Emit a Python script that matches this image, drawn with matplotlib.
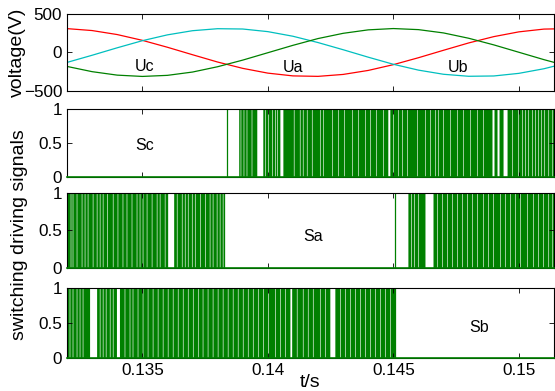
import matplotlib
matplotlib.use('Agg')
import numpy as np
import matplotlib.pyplot as plt

plt.rcParams['font.family'] = ['Liberation Sans', 'DejaVu Sans']

# tensoes trifasicas (uma amostra por ms)
t = [0.132, 0.133, 0.134, 0.135, 0.136, 0.137, 0.138, 0.139, 0.140, 0.141, 0.142,
     0.143, 0.144, 0.145, 0.146, 0.147, 0.148, 0.149, 0.150, 0.151, 0.152]
ua = [310, 285, 233, 158, 68, -29, -124, -206, -268, -304, -310,
      -285, -233, -158, -68, 29, 124, 206, 268, 304, 310]
ub = [-129, -36, 61, 153, 229, 283, 309, 305, 271, 211, 129,
      36, -61, -153, -229, -283, -309, -305, -271, -211, -129]
uc = [-181, -249, -294, -311, -297, -254, -185, -99, -3, 93, 181,
      249, 294, 311, 297, 254, 185, 99, 3, -93, -181]

# sinais de chaveamento: janelas de comutacao densa, faixas brancas e bordas isoladas (s)
sc_active = [(0.13886, 0.1514)]
sc_edges = [0.13838]
sc_wide_gaps = [(0.13958, 0.13982), (0.14050, 0.14062), (0.14480, 0.14488),
                (0.14895, 0.14903), (0.14915, 0.14923), (0.14939, 0.14955)]
sc_gaps = [0.13893, 0.13905, 0.13917, 0.13937, 0.13990, 0.14002, 0.14018, 0.14030,
           0.14038, 0.14105, 0.14129, 0.14141, 0.14157, 0.14177, 0.14209, 0.14221,
           0.14257, 0.14281, 0.14305, 0.14337, 0.14361, 0.14389, 0.14409, 0.14433,
           0.14461, 0.14500, 0.14520, 0.14536, 0.14556, 0.14596, 0.14628, 0.14648,
           0.14668, 0.14680, 0.14700, 0.14728, 0.14756, 0.14780, 0.14808, 0.14835,
           0.14859, 0.14975, 0.14999, 0.15015, 0.15027, 0.15039, 0.15055, 0.15067,
           0.15079, 0.15091, 0.15103, 0.15119, 0.15135]

sa_active = [(0.132, 0.13830), (0.14560, 0.1514)]
sa_edges = [0.14508]
sa_wide_gaps = [(0.13603, 0.13627), (0.14628, 0.14660)]
sa_gaps = [0.13216, 0.13224, 0.13240, 0.13260, 0.13272, 0.13284, 0.13304, 0.13320,
           0.13332, 0.13344, 0.13362, 0.13384, 0.13403, 0.13423, 0.13439, 0.13459,
           0.13479, 0.13491, 0.13503, 0.13519, 0.13539, 0.13559, 0.13571, 0.13591,
           0.13639, 0.13659, 0.13671, 0.13683, 0.13699, 0.13711, 0.13731, 0.13751,
           0.13770, 0.13782, 0.13798, 0.13810, 0.13822,
           0.14572, 0.14584, 0.14600, 0.14676, 0.14696, 0.14716, 0.14736, 0.14756,
           0.14776, 0.14796, 0.14815, 0.14835, 0.14859, 0.14879, 0.14899, 0.14927,
           0.14947, 0.14967, 0.14987, 0.15007, 0.15035, 0.15059, 0.15079, 0.15099,
           0.15119, 0.15135]

sb_active = [(0.132, 0.14508)]
sb_edges = [0.14508]
sb_wide_gaps = [(0.13292, 0.13320), (0.13399, 0.13411), (0.14090, 0.14097),
                (0.14249, 0.14269)]
sb_gaps = [0.13212, 0.13224, 0.13240, 0.13252, 0.13264, 0.13332, 0.13344, 0.13356,
           0.13372, 0.13384, 0.13431, 0.13451, 0.13463, 0.13483, 0.13503, 0.13523,
           0.13543, 0.13563, 0.13583, 0.13603, 0.13623, 0.13643, 0.13663, 0.13683,
           0.13703, 0.13723, 0.13742, 0.13762, 0.13782, 0.13802, 0.13822, 0.13842,
           0.13862, 0.13882, 0.13902, 0.13922, 0.13942, 0.13962, 0.13982, 0.14002,
           0.14030, 0.14050, 0.14070, 0.14117, 0.14141, 0.14161, 0.14181, 0.14209,
           0.14229, 0.14289, 0.14309, 0.14329, 0.14349, 0.14369, 0.14389, 0.14409,
           0.14429, 0.14449, 0.14468, 0.14488]

xticks = [0.135, 0.14, 0.145, 0.15]
xtick_labels = ['0.135', '0.14', '0.145', '0.15']

verde = '#008000'
fig = plt.figure(figsize=(5.55, 3.91), dpi=100)

# posicoes dos eixos (fracao da figura)
pos = [[0.1207, 0.7673, 0.8775, 0.1969],
       [0.1207, 0.5473, 0.8775, 0.1739],
       [0.1207, 0.3146, 0.8775, 0.1918],
       [0.1207, 0.0844, 0.8775, 0.1790]]
axs = [fig.add_axes(p) for p in pos]

for ax in axs:
    ax.set_xlim(0.132, 0.1514)
    ax.set_xticks(xticks)
    ax.tick_params(direction='in', top=True, right=True, length=3.5,
                   labelsize=12.3, width=0.6)
    for s in ax.spines.values():
        s.set_linewidth(0.8)

# tensoes
ax = axs[0]
ax.plot(t, ua, color='#ff0000', lw=0.9)
ax.plot(t, ub, color='#00bfbf', lw=0.9)
ax.plot(t, uc, color=verde, lw=0.9)
ax.set_ylim(-500, 500)
ax.set_yticks([-500, 0, 500])
ax.set_xticklabels([])
ax.set_ylabel('voltage(V)', fontsize=14, labelpad=-2)
ax.text(0.1351, -188, 'Uc', fontsize=11.5, ha='center', va='center')
ax.text(0.1410, -190, 'Ua', fontsize=11.5, ha='center', va='center')
ax.text(0.14756, -190, 'Ub', fontsize=11.5, ha='center', va='center')

# sinais de chaveamento
sinais = [(sc_active, sc_edges, sc_wide_gaps, sc_gaps, 'Sc', 0.1351, 0.47),
          (sa_active, sa_edges, sa_wide_gaps, sa_gaps, 'Sa', 0.1418, 0.42),
          (sb_active, sb_edges, sb_wide_gaps, sb_gaps, 'Sb', 0.1484, 0.43)]

for ax, (ativo, bordas, largas, faixas, nome, tx, ty) in zip(axs[1:], sinais):
    for a, b in ativo:
        ax.axvspan(a, b, color=verde, lw=0, snap=False)
    for a, b in largas:
        ax.axvspan(a, b, color='white', lw=0, snap=False)
    # faixas finas: menos de um pixel, ficam verde-claro ou brancas
    for g in faixas:
        ax.axvspan(g - 0.000012, g + 0.000012, color='white', lw=0, snap=False)
    ax.vlines(bordas, 0, 1, color=verde, lw=0.9)
    ax.plot([0.132, 0.1514], [0, 0], color=verde, lw=1.2, zorder=3, clip_on=False)
    ax.set_ylim(0, 1)
    ax.set_yticks([0, 0.5, 1])
    ax.set_yticklabels(['0', '0.5', '1'])
    ax.text(tx, ty, nome, fontsize=11.5, ha='center', va='center')
    ax.set_xticklabels([])

axs[3].set_xticklabels(xtick_labels)
axs[3].set_xlabel('t/s', fontsize=14, labelpad=-3)

fig.text(0.036, 0.40, 'switching driving signals', rotation=90, fontsize=14,
         ha='center', va='center')

fig.savefig('out.png', dpi=100)
